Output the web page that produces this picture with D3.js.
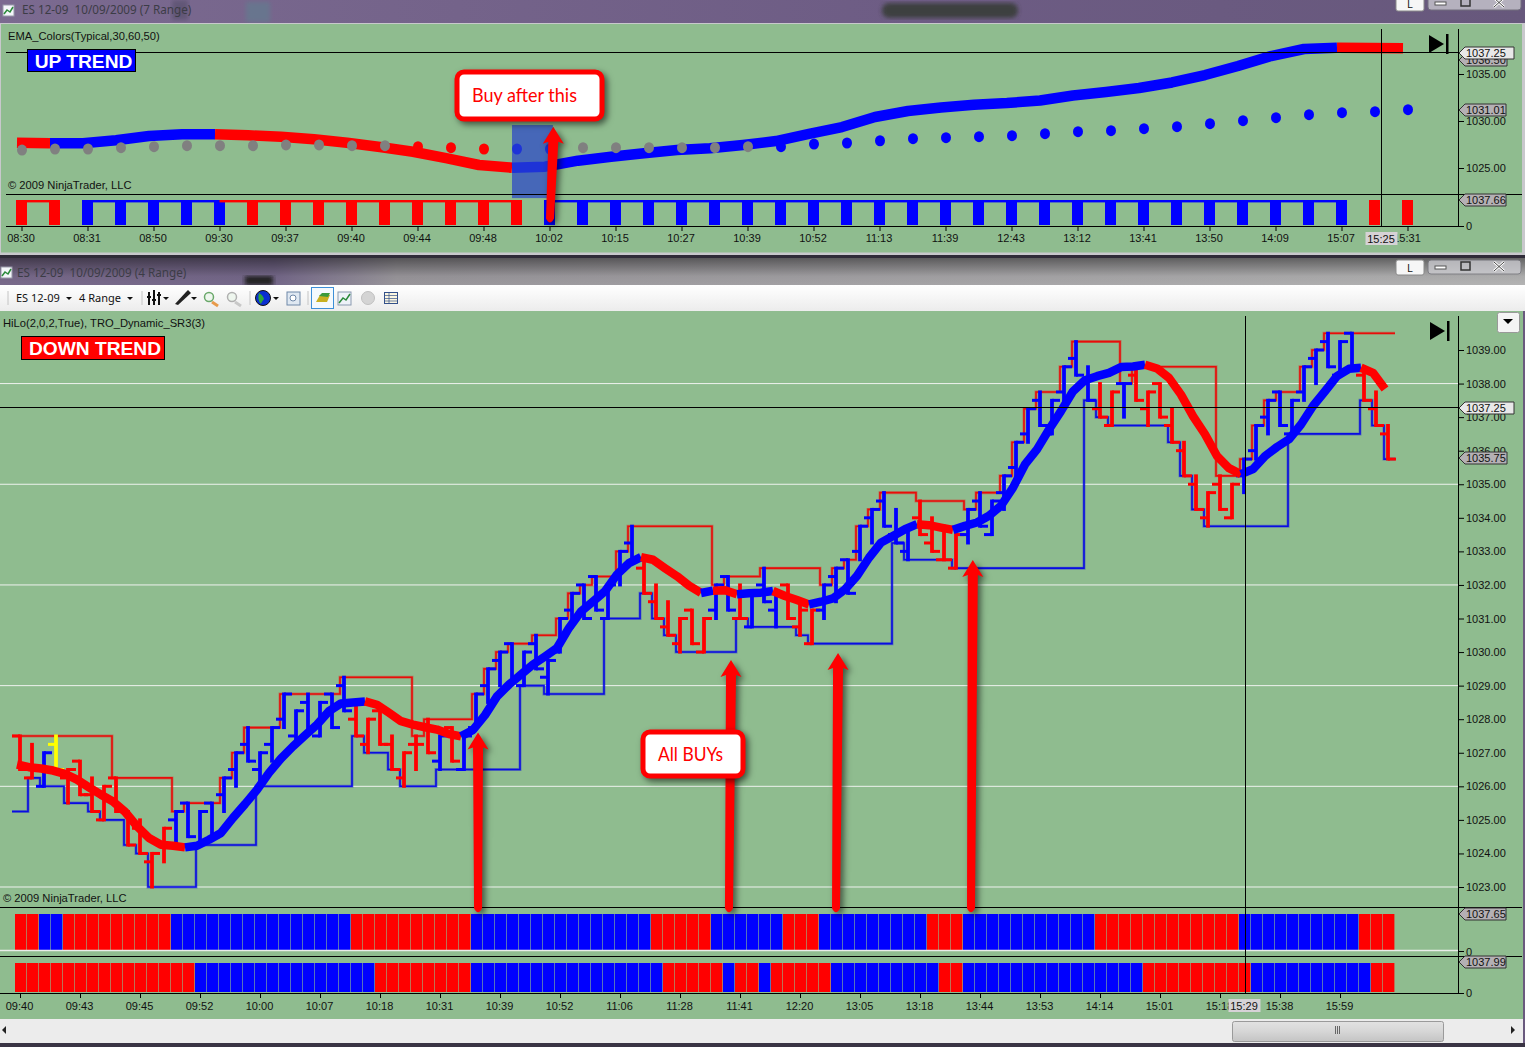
<!DOCTYPE html>
<html>
<head>
<meta charset="utf-8">
<title>ES 12-09 range charts</title>
<script src="https://cdn.jsdelivr.net/npm/d3@7"></script>
<style>
  html, body { margin: 0; padding: 0; background: #6a5a7e; overflow: hidden; }
  svg { display: block; }
  text { font-family: "Liberation Sans", Arial, sans-serif; font-size: 11px; fill: #111; white-space: pre; }
  .axis path, .axis line { stroke: #000; }
  .axis text { font-family: "Liberation Sans", Arial, sans-serif; font-size: 11px; fill: #111; }
  .label { font-size: 11.2px; }
  .title { font-family: "Noto Sans", sans-serif; font-size: 11.7px; fill: #3c3c46; }
  .note { font-family: Lato, "Noto Sans", sans-serif; font-size: 19px; fill: #f00; }
  .trend { font-weight: bold; font-size: 19.2px; fill: #fff; }
  .shadow { filter: drop-shadow(3px 3px 3px rgba(0,0,0,.55)); }
</style>
</head>
<body>
<div id="chart"></div>
<script>
// ---- 4 range panel: one entry per bar
const barHigh = [1027.5,1027.25,1027,1027.5,1026.5,1026.75,1026.25,1026,1026.25,1025.25,1025,1024,1024.75,1025.25,1025.5,1025.25,1025.5,1026.25,1027,1027.75,1027,1027.75,1028.75,1028.25,1028.75,1028.5,1028.75,1029.25,1028.5,1028,1028.25,1027.5,1027,1027.5,1028,1027.5,1027.75,1027.5,1028.75,1029.5,1030,1030.25,1030,1030.5,1029.75,1031,1031.75,1032,1032.25,1032,1033,1033.75,1032.75,1032,1031.5,1031,1031.25,1031,1032,1032.25,1032,1031.75,1032.5,1031.75,1032,1031.5,1031.25,1032,1032.5,1032.75,1033.75,1034.25,1034.75,1034.25,1033.75,1034.5,1034,1033.75,1033.5,1034.25,1034.75,1034.5,1035.25,1036.25,1037.25,1037.75,1037.5,1038.5,1039.25,1038.5,1038,1037.75,1038,1038.5,1037.75,1038,1037.25,1036.25,1035.25,1034.75,1035.25,1035,1035.75,1036.75,1037.5,1037.75,1037.5,1038.5,1039,1039.5,1039.25,1039.5,1038.5,1037.75,1036.75];
const barLow = [1026.5,1026.25,1026,1026.5,1025.5,1025.75,1025.25,1025,1025.25,1024.25,1024,1023,1023.75,1024.25,1024.5,1024.25,1024.5,1025.25,1026,1026.75,1026,1026.75,1027.75,1027.25,1027.75,1027.5,1027.75,1028.25,1027.5,1027,1027.25,1026.5,1026,1026.5,1027,1026.5,1026.75,1026.5,1027.75,1028.5,1029,1029.25,1029,1029.5,1028.75,1030,1030.75,1031,1031.25,1031,1032,1032.75,1031.75,1031,1030.5,1030,1030.25,1030,1031,1031.25,1031,1030.75,1031.5,1030.75,1031,1030.5,1030.25,1031,1031.5,1031.75,1032.75,1033.25,1033.75,1033.25,1032.75,1033.5,1033,1032.75,1032.5,1033.25,1033.75,1033.5,1034.25,1035.25,1036.25,1036.75,1036.5,1037.5,1038.25,1037.5,1037,1036.75,1037,1037.5,1036.75,1037,1036.25,1035.25,1034.25,1033.75,1034.25,1034,1034.75,1035.75,1036.5,1036.75,1036.5,1037.5,1038,1038.5,1038.25,1038.5,1037.5,1036.75,1035.75];
const barOpen = [1027.5,1026.25,1026,1027.25,1026.25,1026.75,1025.75,1025,1026.25,1025.25,1024.75,1023.75,1024.25,1025,1025.5,1024.25,1025.5,1025.75,1026.5,1027.25,1026.5,1027.25,1028,1027.5,1028.5,1027.5,1028.75,1029,1028,1027.25,1028.25,1027.25,1026.25,1027.25,1027.75,1026.75,1027.75,1026.5,1027.75,1029,1029.75,1030.25,1029,1030.25,1029.25,1030,1031.25,1032,1032.25,1031,1032.25,1033.25,1032.5,1031.5,1030.75,1030.25,1031.25,1030,1031.25,1032.25,1031,1030.75,1032,1031.25,1032,1030.75,1030.25,1031.25,1032.25,1032.75,1033,1034,1034.5,1033.5,1033,1034,1033.25,1032.75,1032.5,1033.5,1034.5,1033.5,1034.75,1035.5,1036.5,1037.5,1036.5,1037.75,1038.75,1038,1037.25,1036.75,1038,1038.25,1037.25,1038,1036.75,1036,1035,1034,1035,1034,1035.25,1036,1037,1037.75,1036.5,1037.75,1038.75,1039.25,1038.25,1039.5,1038.25,1037.25,1036.5];
const barClose = [1026.5,1026.5,1027,1026.5,1026.5,1025.75,1025.25,1026,1025.25,1024.25,1024,1024,1024.75,1025.25,1024.5,1025.25,1024.5,1026.25,1027,1026.75,1027,1027.75,1028.75,1028.25,1027.75,1028.5,1027.75,1028.25,1027.5,1028,1027.25,1026.5,1027,1027.25,1027,1027.5,1026.75,1027.5,1028.75,1029.5,1030,1029.25,1030,1029.5,1029.75,1031,1031.75,1031,1031.25,1032,1033,1032.75,1031.75,1031,1030.5,1031,1030.25,1031,1032,1031.25,1031,1031.75,1031.5,1031.75,1031,1031.25,1031.25,1032,1032.5,1031.75,1033.75,1034.25,1033.75,1033.25,1033.75,1033.5,1033,1032.75,1033.5,1034.25,1033.75,1034.5,1035.25,1036.25,1037.25,1036.75,1037.5,1038.5,1038.25,1037.5,1037,1037.75,1038,1037.5,1037.75,1037,1036.25,1035.25,1034.25,1034.75,1034.25,1035,1035.75,1036.75,1037.5,1036.75,1037.5,1038.5,1039,1038.5,1039.25,1038.5,1037.5,1036.75,1035.75];
const barRuns = [["d",2],["u",1],["y",1],["d",9],["u",15],["d",7],["u",1],["d",1],["u",15],["d",6],["u",2],["d",1],["u",3],["d",3],["u",8],["d",4],["u",11],["d",2],["u",1],["d",9],["u",10],["d",3]];

const emaMain = [1026.65,1026.57,1026.53,1026.47,1026.37,1026.2,1025.97,1025.75,1025.55,1025.24,1024.81,1024.46,1024.26,1024.23,1024.18,1024.23,1024.41,1024.61,1025.06,1025.47,1025.9,1026.4,1026.83,1027.19,1027.52,1027.84,1028.24,1028.47,1028.5,1028.53,1028.43,1028.19,1027.94,1027.84,1027.76,1027.69,1027.56,1027.49,1027.68,1028.12,1028.68,1029.03,1029.33,1029.63,1029.87,1030.12,1030.72,1031.21,1031.51,1031.81,1032.31,1032.65,1032.83,1032.75,1032.5,1032.26,1031.98,1031.76,1031.83,1031.84,1031.72,1031.75,1031.77,1031.82,1031.67,1031.55,1031.42,1031.5,1031.6,1031.87,1032.27,1032.81,1033.26,1033.46,1033.66,1033.81,1033.78,1033.71,1033.64,1033.76,1033.86,1034.06,1034.36,1034.9,1035.59,1036.04,1036.63,1037.18,1037.77,1038.1,1038.22,1038.32,1038.49,1038.51,1038.56,1038.45,1038.17,1037.67,1037.03,1036.49,1035.84,1035.48,1035.3,1035.45,1035.84,1036.11,1036.34,1036.78,1037.33,1037.77,1038.22,1038.44,1038.47,1038.32,1037.84];
const emaMainRuns = [["d",14],["u",15],["d",8],["u",15],["d",5],["u",1],["d",2],["u",3],["d",3],["u",9],["d",3],["u",16],["d",8],["u",10],["d",2]];

// dynamic support / resistance: [first bar, level]
const upperSteps = [[0,1027.5],[8,1026.25],[13,1025.25],[14,1025.5],[17,1026.25],[18,1027],[19,1027.75],[22,1028.75],[27,1029.25],[33,1027.5],[34,1028],[38,1028.75],[39,1029.5],[40,1030],[41,1030.25],[43,1030.5],[45,1031],[46,1031.75],[47,1032],[48,1032.25],[50,1033],[51,1033.75],[58,1032],[59,1032.25],[62,1032.5],[67,1032],[68,1032.5],[69,1032.75],[70,1033.75],[71,1034.25],[72,1034.75],[75,1034.5],[79,1034.25],[80,1034.75],[82,1035.25],[83,1036.25],[84,1037.25],[85,1037.75],[87,1038.5],[88,1039.25],[92,1038],[93,1038.5],[100,1035.25],[102,1035.75],[103,1036.75],[104,1037.5],[105,1037.75],[107,1038.5],[108,1039],[109,1039.5]];
const lowerSteps = [[0,1025.25],[1,1026.25],[2,1026],[4,1025.5],[6,1025.25],[7,1025],[9,1024.25],[10,1024],[11,1023],[15,1024.25],[20,1026],[28,1027.5],[29,1027],[31,1026.5],[32,1026],[35,1026.5],[42,1029],[44,1028.75],[49,1031],[52,1031.75],[53,1031],[54,1030.5],[55,1030],[60,1031],[61,1030.75],[65,1030.5],[66,1030.25],[73,1033.25],[74,1032.75],[78,1032.5],[89,1037.5],[90,1037],[91,1036.75],[96,1036.25],[97,1035.25],[98,1034.25],[99,1033.75],[106,1036.5],[112,1037.5],[113,1036.75],[114,1035.75]];

// colour strips under the 4 range panel, one run per colour
const stripOneRuns = [["d",2],["u",2],["d",9],["u",15],["d",10],["u",15],["d",5],["u",6],["d",3],["u",9],["d",3],["u",11],["d",12],["u",10],["d",3]];
const stripTwoRuns = [["d",15],["u",15],["d",8],["u",16],["d",5],["u",1],["d",2],["u",1],["d",5],["u",9],["d",2],["u",15],["d",9],["u",10],["d",2]];

const mainTimeLabels = ["09:40","09:43","09:45","09:52","10:00","10:07","10:18","10:31","10:39","10:52","11:06","11:28","11:41","12:20","13:05","13:18","13:44","13:53","14:14","15:01","15:18","15:38","15:59"];
const mainPriceTicks = d3.range(1023, 1040);
const mainGridPrices = [1023, 1026, 1029, 1032, 1035, 1038];

// [bar at base, bar at tip, price at tip]
const mainArrows = [[38.17,38.17,1027.6],[59.08,59.25,1029.76],[68,68.17,1029.97],[79.25,79.4,1032.74]];

// ---- 7 range panel: one entry per bar
const emaTop = [1027.69,1027.63,1027.63,1027.95,1028.4,1028.59,1028.59,1028.48,1028.33,1028.05,1027.69,1027.23,1026.73,1026.06,1025.32,1025.03,1025.14,1025.78,1026.2,1026.56,1026.91,1027.1,1027.45,1027.87,1028.62,1029.36,1030.43,1031.06,1031.44,1031.73,1031.91,1032.18,1032.71,1033.09,1033.51,1034.1,1034.89,1035.85,1036.91,1037.66,1037.8,1037.77,1037.73];
const emaTopRuns = [["d",1],["u",5],["d",9],["u",25],["d",2]];
const dotsTop = [1026.91,1027.02,1027.02,1027.16,1027.27,1027.37,1027.37,1027.37,1027.45,1027.45,1027.37,1027.37,1027.27,1027.16,1027.02,1027.02,1027.02,1027.16,1027.16,1027.16,1027.16,1027.16,1027.27,1027.27,1027.55,1027.66,1027.9,1028.12,1028.22,1028.33,1028.44,1028.65,1028.86,1028.97,1029.18,1029.39,1029.71,1030.03,1030.35,1030.67,1030.88,1030.99,1031.2];
const dotsTopRuns = [["g",12],["d",3],["u",2],["g",6],["u",20]];
const stripTopRuns = [["d",2],["u",5],["d",9],["u",25],["d",2]];
const stripTopLinks = [[0,1,"d"],[2,6,"u"],[6,15,"d"],[16,40,"u"]];
const topTimeLabels = ["08:30","08:31","08:50","09:30","09:37","09:40","09:44","09:48","10:02","10:15","10:27","10:39","10:52","11:13","11:39","12:43","13:12","13:41","13:50","14:09","15:07","15:31"];
const topPriceTicks = [1025, 1030, 1035];

const colorOf = { d: "#ff0000", u: "#0000ff", y: "#ffff00", g: "#808080" };
const green = "#8fbc8f";

// turn [state, count] runs into one state per bar
const expand = runs => runs.flatMap(([s, n]) => d3.range(n).map(() => s));
// turn [first bar, level] steps into one level per bar
const fillSteps = (steps, n) => d3.range(n).map(i => d3.greatest(steps.filter(s => s[0] <= i), s => s[0])[1]);

const width = 1525, height = 1047;
const svg = d3.select("#chart").append("svg").attr("width", width).attr("height", height);
const defs = svg.append("defs");

const grad = (id, stops, horizontal) => {
    const g = defs.append("linearGradient").attr("id", id)
        .attr("x1", 0).attr("y1", 0).attr("x2", horizontal ? 1 : 0).attr("y2", horizontal ? 0 : 1);
    stops.forEach(([o, c, a]) => g.append("stop").attr("offset", o).attr("stop-color", c).attr("stop-opacity", a === undefined ? 1 : a));
};
grad("frameTop", [[0, "#7b6a90"], [0.6, "#6d5c84"], [1, "#67587c"]], true);
grad("frameMain", [[0, "#7a6b8c"], [0.18, "#75688a"], [0.26, "#9a979c"], [1, "#b4b4b4"]], true);
grad("frameDark", [[0, "#000", 0.45], [0.65, "#000", 0.05], [1, "#000", 0]]);
grad("tool", [[0, "#ffffff"], [1, "#ececec"]]);
grad("thumb", [[0, "#e2e2e2"], [0.5, "#d6d6d6"], [1, "#c4c4c4"]]);
defs.append("filter").attr("id", "blur").append("feGaussianBlur").attr("stdDeviation", 2);

// ---- window frames
svg.append("rect").attr("width", width).attr("height", height).attr("fill", "#6a5a7e");
svg.append("rect").attr("width", width).attr("height", 23).attr("fill", "url(#frameTop)");
svg.append("rect").attr("x", 882).attr("y", 3).attr("width", 136).attr("height", 15).attr("rx", 7).attr("fill", "#3d4040").attr("filter", "url(#blur)");
svg.append("rect").attr("x", 172).attr("y", 0).attr("width", 16).attr("height", 20).attr("fill", "#4b4760").attr("opacity", .5).attr("filter", "url(#blur)");
svg.append("rect").attr("x", 246).attr("y", 2).attr("width", 24).attr("height", 20).attr("fill", "#5f8090").attr("opacity", .6).attr("filter", "url(#blur)");
svg.append("rect").attr("y", 23).attr("width", width).attr("height", 232).attr("fill", "#c8c8cc");
svg.append("rect").attr("x", 1).attr("y", 24).attr("width", 1521).attr("height", 228.5).attr("fill", green);
svg.append("rect").attr("y", 255).attr("width", width).attr("height", 3).attr("fill", "#2f2b38");
svg.append("rect").attr("y", 258).attr("width", width).attr("height", 28).attr("fill", "url(#frameMain)");
svg.append("rect").attr("y", 258).attr("width", width).attr("height", 28).attr("fill", "url(#frameDark)");
svg.append("rect").attr("x", 245).attr("y", 276).attr("width", 28).attr("height", 9).attr("fill", "#222").attr("filter", "url(#blur)");
svg.append("rect").attr("y", 285).attr("width", width).attr("height", 26).attr("fill", "url(#tool)");
svg.append("rect").attr("y", 311).attr("width", 1523).attr("height", 708).attr("fill", green);
svg.append("rect").attr("y", 1019).attr("width", 1523).attr("height", 24).attr("fill", "#ececec");
svg.append("rect").attr("y", 1043).attr("width", width).attr("height", 4).attr("fill", "#3a3444");

svg.append("text").attr("class", "title").attr("x", 22).attr("y", 14).text("ES 12-09  10/09/2009 (7 Range)");
svg.append("text").attr("class", "title").attr("x", 17).attr("y", 277).text("ES 12-09  10/09/2009 (4 Range)");

// small chart glyph in a title bar
const titleIcon = (x, y) => {
    const g = svg.append("g").attr("transform", `translate(${x},${y})`);
    g.append("rect").attr("width", 11).attr("height", 11).attr("fill", "#f4f6fa").attr("stroke", "#99a");
    g.append("path").attr("d", "M1,9L4,5L7,7L10,2").attr("fill", "none").attr("stroke", "#2a8a3a").attr("stroke-width", 1.5);
};
titleIcon(3, 5);
titleIcon(1, 267);

// L button and min / max / close group
const windowButtons = y => {
    const g = svg.append("g").attr("transform", `translate(0,${y})`);
    g.append("rect").attr("x", 1396).attr("y", 0).attr("width", 28).attr("height", 15).attr("rx", 2).attr("fill", "#f6f6f6").attr("stroke", "#8a8a8a");
    g.append("text").attr("x", 1410).attr("y", 12).attr("text-anchor", "middle").style("font-size", "10px").text("L");
    g.append("rect").attr("x", 1428).attr("y", 0).attr("width", 93).attr("height", 14).attr("rx", 3).attr("fill", "#cfcfd4").attr("opacity", .75).attr("stroke", "#77777f");
    g.append("rect").attr("x", 1435).attr("y", 6).attr("width", 11).attr("height", 3).attr("fill", "#fff").attr("stroke", "#555");
    g.append("rect").attr("x", 1461).attr("y", 2).attr("width", 9).attr("height", 8).attr("fill", "none").attr("stroke", "#333").attr("stroke-width", 1.5);
    g.append("path").attr("d", "M1494,2L1504,11M1504,2L1494,11").attr("stroke", "#fff").attr("stroke-width", 2.5);
    g.append("path").attr("d", "M1494,2L1504,11M1504,2L1494,11").attr("stroke", "#444").attr("stroke-width", 1);
};
windowButtons(-4);
windowButtons(260);

// ---- toolbar
svg.append("path").attr("d", "M8,291V305M142,291V305M250,291V305M308,291V305").attr("stroke", "#c4c4c4");
svg.append("text").attr("x", 16).attr("y", 302).style("font-family", "'Noto Sans'").text("ES 12-09");
svg.append("text").attr("x", 79).attr("y", 302).style("font-family", "'Noto Sans'").text("4 Range");
const caret = x => svg.append("path").attr("d", `M${x},297h6l-3,3z`).attr("fill", "#111");
[66, 127, 163, 191, 273].forEach(caret);
svg.append("path").attr("d", "M149,292V305M154,290V305M159,292V305M147,297h4M152,300h4M157,295h4").attr("stroke", "#111").attr("stroke-width", 2);
svg.append("path").attr("d", "M175,304L186,292L188,290L191,293L178,305Z").attr("fill", "#222");
const magnifier = (x, col, ring) => {
    svg.append("line").attr("x1", x + 6).attr("y1", 302).attr("x2", x + 12).attr("y2", 306).attr("stroke", col).attr("stroke-width", 3);
    svg.append("circle").attr("cx", x + 3).attr("cy", 297).attr("r", 4.5).attr("fill", "#eef6ee").attr("stroke", ring).attr("stroke-width", 1.5);
};
magnifier(206, "#e79a4a", "#6aa86a");
magnifier(229, "#c8c8c8", "#b0b0b0");
svg.append("circle").attr("cx", 263).attr("cy", 298).attr("r", 7.5).attr("fill", "#0a2fd0").attr("stroke", "#111");
svg.append("path").attr("d", "M259,293q4,2 5,6q-3,4 -3,5q-4,-4 -2,-11z").attr("fill", "#2fa83a");
svg.append("rect").attr("x", 287).attr("y", 292).attr("width", 13).attr("height", 13).attr("fill", "#dfe8f2").attr("stroke", "#6f88a8");
svg.append("circle").attr("cx", 293).attr("cy", 298).attr("r", 3).attr("fill", "#fff").attr("stroke", "#6f88a8");
svg.append("rect").attr("x", 311.5).attr("y", 287.5).attr("width", 22).attr("height", 21).attr("fill", "#f4f9fd").attr("stroke", "#3d8fd8");
svg.append("path").attr("d", "M316,302l4,-7h10l-3,7z").attr("fill", "#c8b020");
svg.append("path").attr("d", "M319,296l3,-3h8l-2,4z").attr("fill", "#3a9a3a");
svg.append("rect").attr("x", 338).attr("y", 292).attr("width", 13).attr("height", 13).attr("fill", "#eef2f8").attr("stroke", "#8a9ab0");
svg.append("path").attr("d", "M339,303l4,-5l3,2l4,-6").attr("fill", "none").attr("stroke", "#2a8a3a").attr("stroke-width", 1.5);
svg.append("circle").attr("cx", 368).attr("cy", 298).attr("r", 6.5).attr("fill", "#d4d4d4").attr("stroke", "#c0c0c0");
svg.append("rect").attr("x", 384.5).attr("y", 292.5).attr("width", 13).attr("height", 11).attr("fill", "#fbf6e0").attr("stroke", "#33508a");
svg.append("path").attr("d", "M385,295.5h13M385,298.5h13M385,301h13M389,293v10").attr("stroke", "#33508a").attr("stroke-width", .7);

// ---- 7 range panel scales
const xTop = d3.scaleLinear().domain([0, 42]).range([22, 1408]);
const xTopEma = d3.scaleLinear().domain([0, 42]).range([17, 1403]);
const xTopBar = d3.scaleLinear().domain([0, 42]).range([21.5, 1407.5]);
const yTop = d3.scaleLinear().domain([1035, 1025]).range([74, 168]);

svg.append("text").attr("class", "label").attr("x", 8).attr("y", 40).text("EMA_Colors(Typical,30,60,50)");
svg.append("text").attr("class", "label").attr("x", 8).attr("y", 189).text("© 2009 NinjaTrader, LLC");

// coloured polyline: one path for each run of same coloured segments
const colorLine = (g, values, runs, x, y, w) => {
    const seg = d3.line().x(d => x(d.i)).y(d => y(d.v));
    let start = 0;
    runs.forEach(([s, n]) => {
        const pts = d3.range(start, start + n + 1).map(i => ({ i, v: values[i] }));
        g.append("path").attr("d", seg(pts))
            .attr("fill", "none").attr("stroke", colorOf[s]).attr("stroke-width", w)
            .attr("stroke-linejoin", "round").attr("stroke-linecap", "butt");
        start += n;
    });
};

// line first, dots sit on top of it
const topG = svg.append("g");
colorLine(topG, emaTop, emaTopRuns, xTopEma, yTop, 10.5);
const dotStates = expand(dotsTopRuns);
topG.selectAll("ellipse").data(dotsTop).join("ellipse")
    .attr("cx", (d, i) => xTop(i)).attr("cy", d => yTop(d)).attr("rx", 5).attr("ry", 5.5)
    .attr("fill", (d, i) => colorOf[dotStates[i]]);

// strip of the 7 range panel
const stripTop = svg.append("g");
expand(stripTopRuns).forEach((s, i) => {
    stripTop.append("rect").attr("x", xTopBar(i) - 5.5).attr("y", 200).attr("width", 11).attr("height", 25).attr("fill", colorOf[s]);
});
stripTopLinks.forEach(([a, b, s]) => {
    stripTop.append("rect").attr("x", xTopBar(a)).attr("y", 200).attr("width", xTopBar(b) - xTopBar(a)).attr("height", 2.4).attr("fill", colorOf[s]);
});

// blue highlight around the entry bar
svg.append("rect").attr("x", xTopEma(15)).attr("y", yTop(1029.57))
    .attr("width", xTopEma(16.24) - xTopEma(15)).attr("height", yTop(1021.8) - yTop(1029.57))
    .attr("fill", "#2a47c8").attr("opacity", .72);

svg.append("path").attr("d", "M6,52.5H1458M6,194.5H1522M6,226.5H1458").attr("stroke", "#000");

svg.append("g").attr("class", "axis").attr("transform", "translate(1458,0)")
    .call(d3.axisRight(yTop).tickValues(topPriceTicks).tickFormat(d3.format(".2f")).tickSize(6).tickPadding(2))
    .call(g => g.select(".domain").attr("d", "M0.5,29V226"));
svg.append("g").attr("class", "axis").attr("transform", "translate(0,226)")
    .call(d3.axisBottom(xTopBar).tickValues(topTimeLabels.map((d, i) => i * 2)).tickFormat((d, i) => topTimeLabels[i]).tickSize(5).tickPadding(3))
    .call(g => g.select(".domain").remove())
    .call(g => g.selectAll("text").attr("dx", -1).attr("transform", "translate(0,0)"));

// ---- 4 range panel scales
const xMain = d3.scaleLinear().domain([0, 114]).range([20, 1388]);
const xMainEma = d3.scaleLinear().domain([0, 114]).range([17, 1385]);
const xStrip = d3.scaleLinear().domain([0, 115]).range([15, 1395]);
const yMain = d3.scaleLinear().domain([1039, 1023]).range([350, 887]);

svg.append("g").selectAll("line").data(mainGridPrices).join("line")
    .attr("x1", 0).attr("x2", 1458).attr("y1", d => yMain(d)).attr("y2", d => yMain(d))
    .attr("stroke", "#eef2ee");

svg.append("text").attr("class", "label").attr("x", 3).attr("y", 327).text("HiLo(2,0,2,True), TRO_Dynamic_SR3(3)");
svg.append("text").attr("class", "label").attr("x", 3).attr("y", 902).text("© 2009 NinjaTrader, LLC");

const stepLine = d3.line()
    .x((d, i) => (i === 0 ? xMain(0) - 8 : i > 114 ? xMain(114) + 7 : xMain(i) - 4))
    .y(d => yMain(d))
    .curve(d3.curveStepAfter);

const drawSteps = (steps, color) => {
    const levels = fillSteps(steps, 115);
    svg.append("path").attr("d", stepLine(levels.concat(levels[114])))
        .attr("fill", "none").attr("stroke", color).attr("stroke-width", 3).attr("opacity", .35);
    svg.append("path").attr("d", stepLine(levels.concat(levels[114])))
        .attr("fill", "none").attr("stroke", color).attr("stroke-width", 1.6).attr("opacity", .9);
};
drawSteps(upperSteps, "#f00000");
drawSteps(lowerSteps, "#0000e8");

// open / high / low / close bars
const barStates = expand(barRuns);
const barsG = svg.append("g");
barHigh.forEach((h, i) => {
    const x = xMain(i), c = colorOf[barStates[i]];
    const g = barsG.append("g").attr("stroke", c).attr("fill", "none");
    g.append("line").attr("x1", x).attr("x2", x).attr("y1", yMain(h) - 1.5).attr("y2", yMain(barLow[i]) + 1.5).attr("stroke-width", 3.8);
    g.append("line").attr("x1", x - 8).attr("x2", x).attr("y1", yMain(barOpen[i])).attr("y2", yMain(barOpen[i])).attr("stroke-width", 3);
    g.append("line").attr("x1", x).attr("x2", x + 8).attr("y1", yMain(barClose[i])).attr("y2", yMain(barClose[i])).attr("stroke-width", 3);
});

colorLine(svg.append("g"), emaMain, emaMainRuns, xMainEma, yMain, 8.5);

// colour strips
const drawStrip = (runs, top, bottom) => {
    svg.append("g").selectAll("rect").data(expand(runs)).join("rect")
        .attr("x", (s, i) => xStrip(i)).attr("y", top)
        .attr("width", 11.4).attr("height", bottom - top)
        .attr("fill", s => colorOf[s]);
};
drawStrip(stripOneRuns, 914, 950);
drawStrip(stripTwoRuns, 963, 992);

svg.append("path").attr("d", "M0,950.5H1458").attr("stroke", "#e8ece8").attr("stroke-width", 1.5);
svg.append("path").attr("d", "M0,407.5H1458M0,907.5H1522M0,956.5H1522M0,993.5H1458").attr("stroke", "#000");

svg.append("g").attr("class", "axis").attr("transform", "translate(1458,0)")
    .call(d3.axisRight(yMain).tickValues(mainPriceTicks).tickFormat(d3.format(".2f")).tickSize(6).tickPadding(2))
    .call(g => g.select(".domain").attr("d", "M0.5,316V993"));
svg.append("g").attr("class", "axis").attr("transform", "translate(0,993)")
    .call(d3.axisBottom(xMain).tickValues(mainTimeLabels.map((d, i) => i * 5)).tickFormat((d, i) => mainTimeLabels[i]).tickSize(5).tickPadding(3))
    .call(g => g.select(".domain").remove())
    .call(g => g.selectAll("text").attr("dx", -1).attr("transform", "translate(0,1)"));

// zero ticks of the strips
[[952, 951], [993, 993]].forEach(([ty, ly]) => {
    svg.append("line").attr("x1", 1458).attr("x2", 1464).attr("y1", ly + .5).attr("y2", ly + .5).attr("stroke", "#000");
    svg.append("text").attr("x", 1466).attr("y", ty + 4).text("0");
});
svg.append("line").attr("x1", 1458).attr("x2", 1464).attr("y1", 226.5).attr("y2", 226.5).attr("stroke", "#000");
svg.append("text").attr("x", 1466).attr("y", 230).text("0");

// ---- crosshairs
svg.append("line").attr("x1", 1381.5).attr("x2", 1381.5).attr("y1", 29).attr("y2", 226).attr("stroke", "#000");
svg.append("line").attr("x1", 1245.5).attr("x2", 1245.5).attr("y1", 316).attr("y2", 993).attr("stroke", "#000");

// price flags on the right axis
const flag = (y, label, fill, w) => {
    const g = svg.append("g").attr("transform", `translate(1459,${y})`);
    g.append("path").attr("d", `M0,0L6,-6H${w}V6H6Z`).attr("fill", fill).attr("stroke", "#333");
    g.append("text").attr("x", 7).attr("y", 4).text(label);
};
flag(60, "1036.50", "#b4b0b4", 48);
flag(53, "1037.25", "#e8e8e8", 55);
flag(110, "1031.01", "#b4b0b4", 47);
flag(200, "1037.66", "#b4b0b4", 47);
flag(408, "1037.25", "#e8e8e8", 55);
flag(458, "1035.75", "#b4b0b4", 48);
flag(914, "1037.65", "#b4b0b4", 47);
flag(962, "1037.99", "#b4b0b4", 47);

// time flags at the crosshair
const timeFlag = (x, y, label) => {
    svg.append("rect").attr("x", x - 15.5).attr("y", y - 7).attr("width", 32).attr("height", 13).attr("fill", "#d6d2d6");
    svg.append("text").attr("x", x).attr("y", y + 3.5).attr("text-anchor", "middle").text(label);
};
timeFlag(1381, 239, "15:25");
timeFlag(1244, 1006, "15:29");

// go to last bar buttons
const endIcon = (x, y) => {
    svg.append("path").attr("d", `M${x},${y}l15,9l-15,9z`).attr("fill", "#000");
    svg.append("rect").attr("x", x + 17).attr("y", y - 1).attr("width", 2.5).attr("height", 20).attr("fill", "#000");
};
endIcon(1429, 35);
endIcon(1430, 322);
svg.append("rect").attr("x", 1497.5).attr("y", 312.5).attr("width", 22).attr("height", 20).attr("rx", 2).attr("fill", "#f4f4f4").attr("stroke", "#999");
svg.append("path").attr("d", "M1503,319h10l-5,5z").attr("fill", "#000");

// scroll bar
svg.append("rect").attr("x", 1232.5).attr("y", 1021.5).attr("width", 211).attr("height", 20).attr("rx", 2).attr("fill", "url(#thumb)").attr("stroke", "#9a9a9a");
svg.append("path").attr("d", "M1335.5,1026V1034M1337.5,1026V1034M1339.5,1026V1034").attr("stroke", "#666");
svg.append("path").attr("d", "M6,1026l-4,4l4,4z").attr("fill", "#222");
svg.append("path").attr("d", "M1511,1026l4,4l-4,4z").attr("fill", "#222");

// ---- trend labels
const trendBox = (x, y, w, h, fill, label) => {
    svg.append("rect").attr("x", x).attr("y", y).attr("width", w).attr("height", h).attr("fill", fill).attr("stroke", "#000");
    svg.append("text").attr("class", "trend").attr("x", x + w / 2 + 2).attr("y", y + h / 2 + 7).attr("text-anchor", "middle").text(label);
};
trendBox(27.5, 49.5, 108, 22, "#0000ff", "UP TREND");
trendBox(21.5, 336.5, 143, 23, "#ff0000", "DOWN TREND");

// ---- red arrows and notes drawn on top
const arrow = (x0, y0, x1, y1) => {
    const half = 5, tail = 4, headW = 10.5, headL = 17;
    const d = `M${x0 - tail},${y0 - 4}Q${x0},${y0 + 4} ${x0 + tail},${y0 - 4}L${x1 + half},${y1 + headL - 2}L${x1 + headW},${y1 + headL}L${x1},${y1}L${x1 - headW},${y1 + headL}L${x1 - half},${y1 + headL - 2}Z`;
    svg.append("path").attr("class", "shadow").attr("d", d).attr("fill", "#ff0000");
};
mainArrows.forEach(([b0, b1, p]) => arrow(xMain(b0), yMain(1022.25), xMain(b1), yMain(p)));
arrow(xTop(16), yTop(1019.2), xTop(16.1), yTop(1029.4));

const callout = (x, y, w, h, label, tx, ty, tw) => {
    svg.append("rect").attr("class", "shadow").attr("x", x).attr("y", y).attr("width", w).attr("height", h)
        .attr("rx", 7).attr("fill", "#fff").attr("stroke", "#ff0000").attr("stroke-width", 5);
    svg.append("text").attr("class", "note").attr("x", tx).attr("y", ty)
        .attr("textLength", tw).attr("lengthAdjust", "spacingAndGlyphs").text(label);
};
callout(457, 72, 145, 47, "Buy after this", 472, 102, 105);
callout(643, 732, 100, 44, "All BUYs", 658, 761, 65);
</script>
</body>
</html>
